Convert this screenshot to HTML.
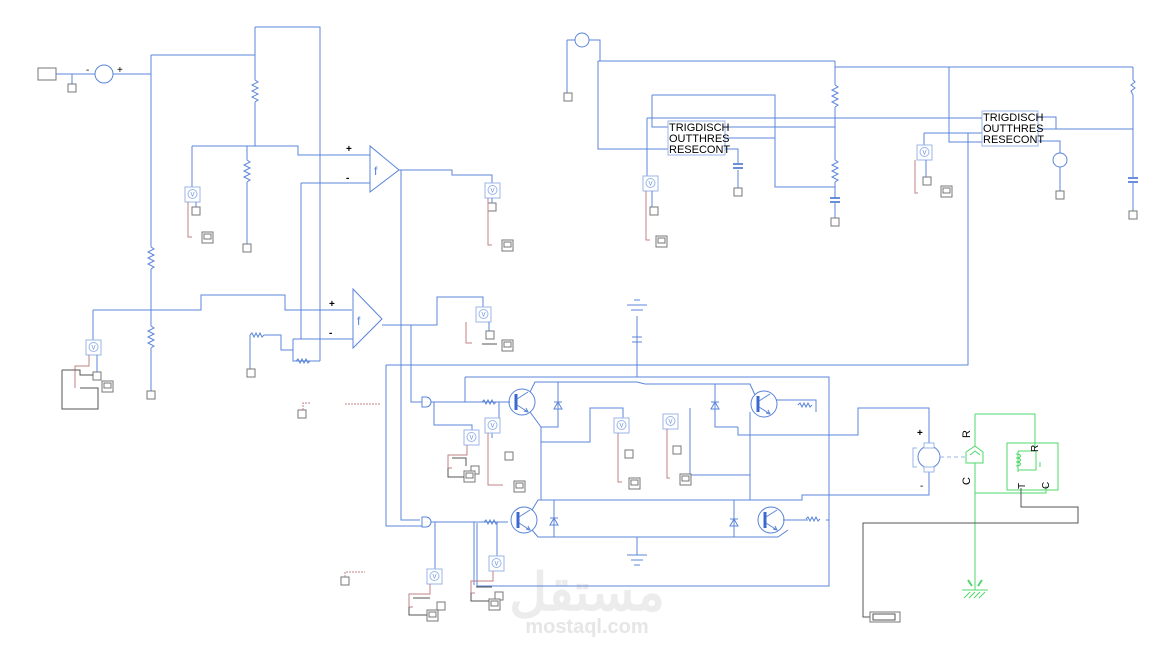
<!DOCTYPE html>
<html><head><meta charset="utf-8"><style>
html,body{margin:0;padding:0;background:#fff;}
svg{display:block;font-family:"Liberation Sans",sans-serif;}
.b{stroke:#5b84d9;stroke-width:1;fill:none}
.g{stroke:#777;stroke-width:1;fill:#fff}
.k{stroke:#555;stroke-width:1;fill:none}
.r{stroke:#c08080;stroke-width:1;fill:none}
.gr{stroke:#4fd86a;stroke-width:1;fill:none}
.vm{stroke:#9ab4ea;stroke-width:1;fill:#fff}
text{font-size:10px;fill:#000}
.tm{font-size:11px}
</style></head><body>
<svg width="1173" height="651" viewBox="0 0 1173 651" xmlns="http://www.w3.org/2000/svg">
<defs>
<g id="vm"><rect class="vm" x="0" y="0" width="15" height="15"/><circle class="vm" cx="7.5" cy="7" r="4.5"/><text x="5.5" y="9.5" style="font-size:6px;fill:#5b84d9">V</text></g>
<g id="sc"><rect class="g" x="0" y="0" width="11" height="11"/><rect class="g" x="2" y="2" width="7" height="5"/></g>
<g id="rv"><polyline class="b" points="0,0 3,2 -3,5 3,8 -3,11 3,14 -3,17 3,20 0,22"/></g>
<g id="rh"><polyline class="b" points="0,0 2,-2 4,2 6,-2 8,2 10,-2 12,2 14,0"/></g>
<g id="sq"><rect class="g" x="0" y="0" width="8" height="8"/></g>
<g id="tr"><circle class="b" cx="0" cy="0" r="13"/><line x1="-6" y1="-8" x2="-6" y2="8" stroke="#3a68d0" stroke-width="3"/><path class="b" d="M-5 -3L6 -10 M-5 3L6 10 M2 9L6 10L4 6"/></g>
<g id="dv"><polygon class="b" points="-4,4 4,4 0,-3"/><line class="b" x1="-4" y1="-3" x2="4" y2="-3"/></g>
</defs>

<!-- watermark -->
<text x="587" y="610" style="font-size:52px;fill:#ececec;font-weight:bold" text-anchor="middle">مستقل</text>
<text x="587" y="633" style="font-size:20px;fill:#e6e6e6;font-weight:bold" text-anchor="middle">mostaql.com</text>

<!-- LEFT SECTION -->
<rect class="g" x="38" y="68" width="18" height="12"/>
<path class="b" d="M56 74H95 M72 74V84 M113 74H151 M151 55V247 M151 269V326 M151 348V393 M151 55H255 M255 27V80 M255 102V146 M255 27H320V361"/>
<use href="#sq" x="68" y="84"/>
<circle class="b" cx="104" cy="74" r="9"/>
<text x="86" y="73">-</text><text x="117" y="73">+</text>
<use href="#rv" x="255" y="80"/>
<use href="#rv" x="151" y="247"/>
<use href="#rv" x="151" y="326"/>
<use href="#sq" x="147" y="391"/>
<path class="b" d="M192 146H298V155H370 M247 146V160 M247 182V244 M192 146V187"/>
<use href="#rv" x="247" y="160"/>
<use href="#sq" x="243" y="244"/>
<use href="#vm" x="185" y="187"/>
<path class="b" d="M196 202V207"/>
<use href="#sq" x="192" y="207"/>
<path class="r" d="M188 202V237H192"/>
<use href="#sc" x="202" y="232"/>
<!-- opamp1 -->
<polygon class="b" points="370,146 370,192 399,170"/>
<text x="346" y="152" style="font-weight:bold">+</text><text x="346" y="181" style="font-weight:bold">-</text>
<text x="374" y="175" style="font-size:12px;fill:#5b84d9">f</text>
<path class="b" d="M301 183H370 M301 183V339 M399 170H452V175H492V183 M401 170V520H420"/>
<use href="#vm" x="485" y="183"/>
<use href="#sq" x="488" y="203"/>
<path class="b" d="M492 198V203"/>
<path class="r" d="M488 198V245H492"/>
<use href="#sc" x="502" y="240"/>
<!-- second opamp -->
<path class="b" d="M93 310H201V295H285V310H352 M93 310V342 M293 339H353 M293 339V361H320 M250 335V369 M264 335H281V350H293"/>
<use href="#rh" x="250" y="335"/>
<use href="#rh" x="296" y="361"/>
<use href="#sq" x="247" y="369"/>
<polygon class="b" points="353,289 353,348 382,319"/>
<text x="329" y="307" style="font-weight:bold">+</text><text x="329" y="336" style="font-weight:bold">-</text>
<text x="357" y="325" style="font-size:12px;fill:#5b84d9">f</text>
<use href="#vm" x="86" y="340"/>
<path class="b" d="M97 355V372"/>
<use href="#sq" x="93" y="372"/>
<path class="r" d="M89 355V366H75V388"/>
<path class="k" d="M62 370V409H98V388H93 M62 370H80V375H93 M80 388H93"/>
<use href="#sc" x="102" y="381"/>
<use href="#sq" x="298" y="410"/>
<path class="r" d="M303 410V403H310" stroke-dasharray="2,1"/>
<path class="r" d="M345 404H380" stroke-dasharray="2,1"/>
<use href="#sq" x="341" y="577"/>
<path class="r" d="M345 577V572H365" stroke-dasharray="2,1"/>

<!-- output opamp2 -->
<path class="b" d="M382 325H437V297H483V307 M411 325V402H422"/>
<use href="#vm" x="476" y="307"/>
<use href="#sq" x="486" y="331"/>
<path class="b" d="M489 322V331"/>
<path class="r" d="M466 322V343H472"/>
<path class="k" d="M482 344H497"/>
<use href="#sc" x="502" y="340"/>

<!-- H-bridge -->
<path class="b" d="M386 365H968V133 M386 365V526H422 M465 377H829V586H477V523"/>
<path class="b" d="M422 397h4a5 5 0 0 1 0 10h-4z M422 517h4a5 5 0 0 1 0 10h-4z"/>
<path class="b" d="M431 402H510 M431 522H508 M434 402V425H472V438 M465 377V402 M435 522V575"/>
<use href="#rh" x="482" y="402"/>
<use href="#rh" x="484" y="522"/>
<path class="b" d="M499 402V420 M492 420V438 M474 522V585 M497 522V558"/>
<use href="#tr" x="522" y="402"/>
<use href="#tr" x="524" y="520"/>
<use href="#tr" x="764" y="404"/>
<use href="#tr" x="771" y="520"/>
<path class="b" d="M530 392L535 382H637 M530 412L541 427V500 M532 510L538 500H802V495H829 M532 530L538 537H778L788 530 M558 382V427H541 M554 500V537 M541 442H590V408H623V421 M637 382L645 384H750L755 395 M715 384V427H738 M734 500V537 M738 427V435H858V408H929V448 M750 412V475H690V408 M750 435V500 M756 500H764 M776 400H816V412 M826 520H829 M783 520H808"/>
<use href="#dv" x="558" y="405"/>
<use href="#dv" x="554" y="521"/>
<use href="#dv" x="715" y="405"/>
<use href="#dv" x="734" y="522"/>
<use href="#rh" x="798" y="405"/>
<use href="#rh" x="806" y="519"/>
<use href="#vm" x="464" y="430"/><use href="#vm" x="485" y="418"/>
<use href="#vm" x="614" y="418"/><use href="#vm" x="663" y="414"/>
<use href="#vm" x="427" y="569"/><use href="#vm" x="489" y="556"/>
<use href="#sq" x="471" y="466"/><use href="#sq" x="505" y="452"/>
<use href="#sq" x="625" y="450"/><use href="#sq" x="673" y="446"/>
<use href="#sq" x="437" y="602"/><use href="#sq" x="495" y="592"/>
<use href="#sc" x="464" y="471"/><use href="#sc" x="514" y="481"/>
<use href="#sc" x="629" y="478"/><use href="#sc" x="680" y="474"/>
<use href="#sc" x="427" y="610"/><use href="#sc" x="489" y="599"/>
<path class="r" d="M467 445V455H448V468H452 M488 433V485H503 M618 433V482H622 M667 429V478H670 M430 584V594H409V607H413 M493 571V581H471V593H475"/>
<path class="k" d="M448 468V477H464 M452 458H466V466 M409 607V615H427 M413 598H430 M471 593V601H489 M476 587H492"/>
<!-- grounds -->
<path class="b" d="M637 316V377 M627 305H647 M631 310H643 M634 300H640 M632 337H642 M632 342H642 M637 537V555 M627 555H647 M631 560H643 M634 565H640"/>

<!-- TOP RIGHT -->
<circle class="b" cx="582" cy="40" r="7"/>
<path class="b" d="M567 40H575 M567 40V93 M589 40H600V61 M598 61H835 M598 61V149H668 M835 61V85 M835 107V160 M835 182V198 M835 203V218 M835 67H1133 M1133 67V80 M1133 95V177 M1133 183V211 M949 67V142H982 M652 95H775V187H835 M652 95V127H668 M647 118H982 M647 118V176 M725 127H835 M725 138H775 M725 149H738V163 M738 170V188 M1038 117H1056V129 M1038 129H1133 M1038 141H1060V153 M1060 167V191 M924 133H982 M924 133V145 M968 133V365"/>
<use href="#sq" x="564" y="93"/>
<use href="#rv" x="835" y="85"/><use href="#rv" x="835" y="160"/>
<path d="M830 198H840 M830 202H840 M733 164H743 M733 168H743 M1128 178H1138 M1128 182H1138" stroke="#3a68d0" stroke-width="1.5"/>
<use href="#sq" x="831" y="218"/><use href="#sq" x="734" y="188"/><use href="#sq" x="1129" y="211"/><use href="#sq" x="1056" y="191"/>
<polyline class="b" points="1133,80 1135,82 1131,85 1135,88 1131,91 1133,95"/>
<rect class="vm" x="668" y="121" width="57" height="34"/>
<text class="tm" x="669" y="131">TRIGDISCH</text><text class="tm" x="669" y="142">OUTTHRES</text><text class="tm" x="669" y="153">RESECONT</text>
<rect class="vm" x="982" y="111" width="56" height="35"/>
<text class="tm" x="983" y="121">TRIGDISCH</text><text class="tm" x="983" y="132">OUTTHRES</text><text class="tm" x="983" y="143">RESECONT</text>
<circle class="b" cx="1060" cy="160" r="7"/>
<use href="#vm" x="643" y="176"/><use href="#sq" x="650" y="207"/>
<path class="b" d="M652 191V207"/>
<path class="r" d="M646 191V240H650"/><use href="#sc" x="656" y="236"/>
<use href="#vm" x="917" y="145"/><use href="#sq" x="923" y="177"/>
<path class="b" d="M926 160V177"/>
<path class="r" d="M915 160V193H918"/><use href="#sc" x="941" y="186"/>

<!-- motor & mechanical -->
<path class="b" d="M929 467V495H829"/>
<circle class="b" cx="929" cy="457" r="11"/>
<rect class="vm" x="924" y="443" width="10" height="5"/><rect class="vm" x="924" y="467" width="10" height="5"/>
<path class="vm" d="M917 448H913V467H917" style="fill:none"/>
<text x="917" y="436" style="font-weight:bold">+</text><text x="920" y="489">-</text>
<path d="M940 457H966" stroke="#9ab4ea" stroke-dasharray="4,3"/>
<path class="gr" d="M966 452L975 446L983 452V463H966Z M970 455L975 451L980 455 M975 414V446 M975 463V590 M975 414H1035V447 M975 493H1046V486"/>
<rect class="gr" x="1007" y="443" width="51" height="47" stroke="#9ce5a8"/>
<path class="gr" d="M1018 451V472 M1018 451H1036V470H1018 M1040 462V467"/>
<path class="gr" d="M1016 454c6 0 6 4 0 4c6 0 6 4 0 4c6 0 6 4 0 4"/>
<text x="970" y="438" transform="rotate(-90 970 438)" style="font-size:11px">R</text>
<text x="970" y="485" transform="rotate(-90 970 485)" style="font-size:11px">C</text>
<text x="1038" y="452" transform="rotate(-90 1038 452)" style="font-size:10px">R</text>
<text x="1025" y="489" transform="rotate(-90 1025 489)" style="font-size:10px">T</text>
<text x="1049" y="489" transform="rotate(-90 1049 489)" style="font-size:10px">C</text>
<path class="gr" d="M962 590H988 M964 598L970 592 M969 598L975 592 M974 598L980 592 M979 598L985 592"/>
<path d="M968 580l4 6 M982 580l-4 6" stroke="#4fd86a" stroke-width="2"/>
<path class="k" d="M1021 488V507H1078V523H863V617H870"/>
<rect class="g" x="870" y="612" width="30" height="10"/><rect class="k" x="873" y="614" width="22" height="6"/>
</svg>
</body></html>
